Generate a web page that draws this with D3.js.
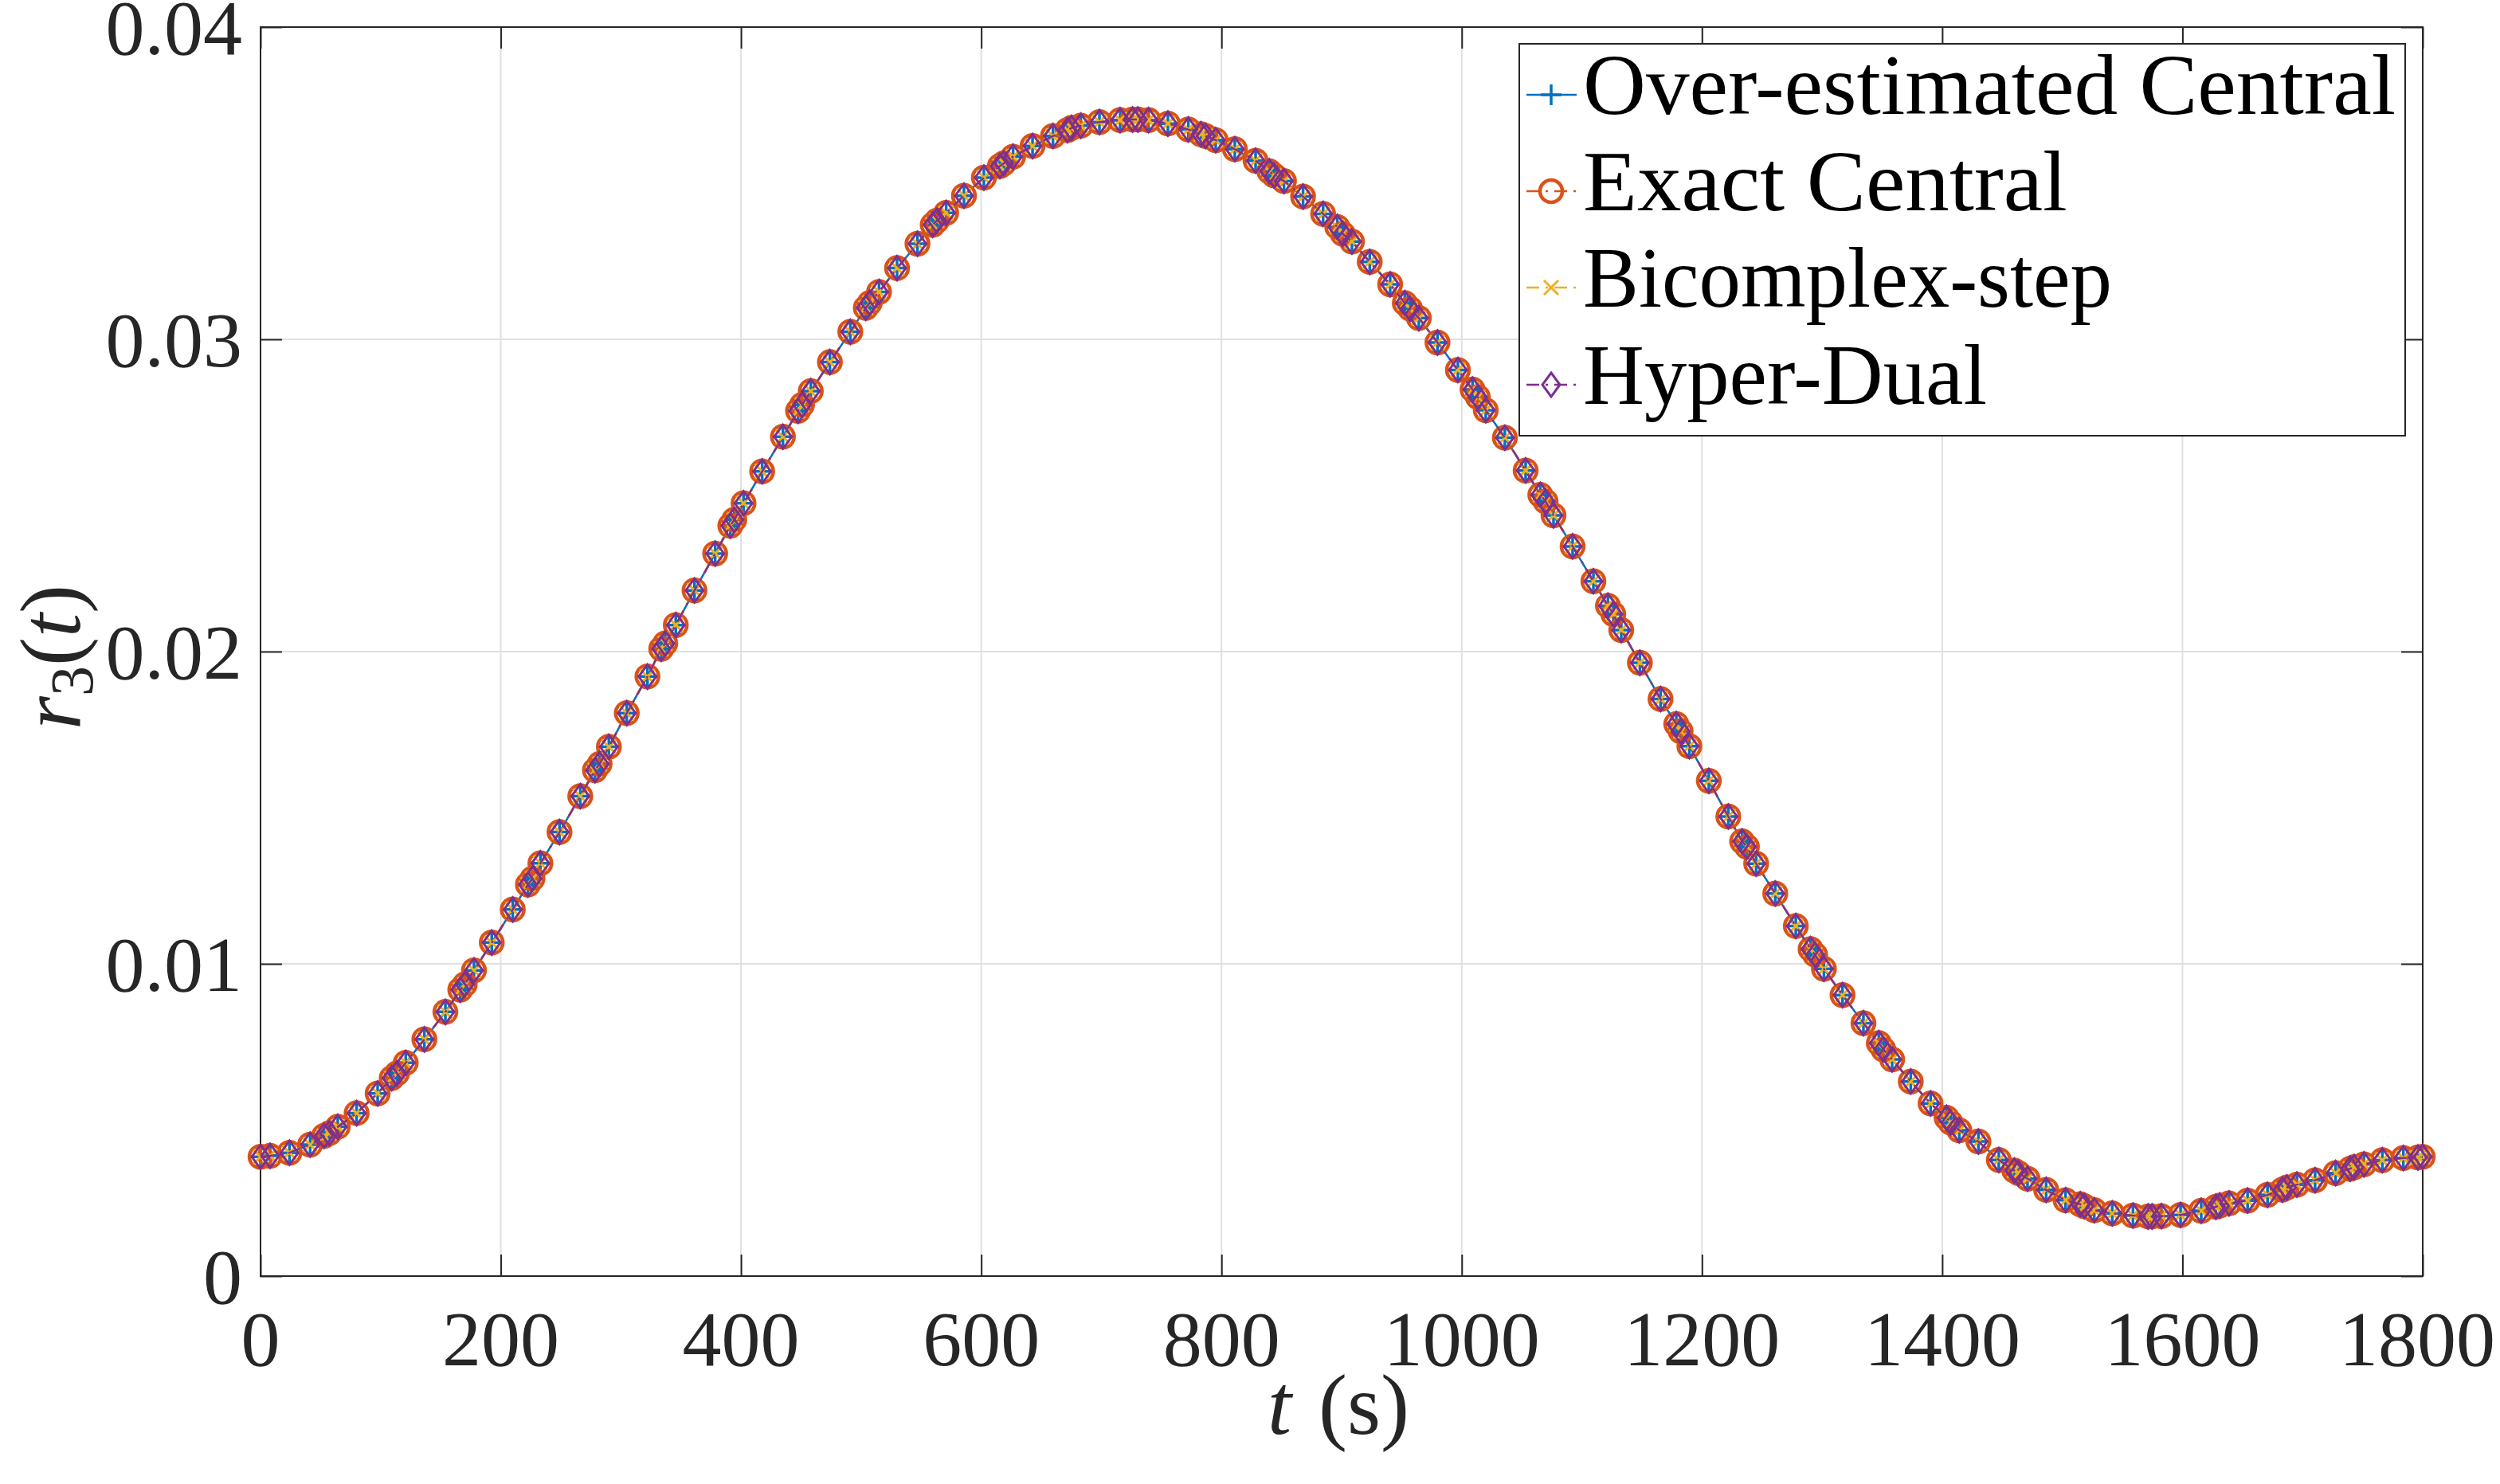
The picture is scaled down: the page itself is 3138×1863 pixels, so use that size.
<!DOCTYPE html>
<html>
<head>
<meta charset="utf-8">
<script src="https://cdn.jsdelivr.net/npm/d3@7/dist/d3.min.js"></script>
<style>
  html, body { margin: 0; padding: 0; background: #ffffff; }
  svg { display: block; }
</style>
</head>
<body>
<svg id="chart" width="3138" height="1863"></svg>
<script>
// ---------- DATA ----------
const timeValues = [0, 8, 24.1, 41.3, 52.9, 57.3, 64.3, 80.0, 97.5, 109.2, 113.6, 120.9, 136.4, 153.9, 166.3, 170.0, 177.7, 192.5, 210.0, 222.6, 226.4, 233.0, 248.9, 266.2, 278.4, 282.3, 290.0, 304.9, 322.1, 333.6, 336.9, 345.7, 361.3, 378.5, 391.1, 394.4, 402.1, 417.6, 434.9, 447.5, 450.8, 458.1, 474.0, 491.0, 503.9, 507.2, 514.9, 529.9, 546.9, 559.6, 563.1, 570.8, 585.6, 602.2, 615.5, 618.8, 626.5, 642.7, 659.7, 671.8, 675.2, 682.9, 698.4, 715.6, 726.0, 730.4, 739.3, 755.4, 772.4, 782.8, 786.8, 795.2, 811.1, 828.4, 839.8, 843.8, 852.0, 867.9, 884.6, 896.4, 900.9, 908.6, 923.4, 940.4, 952.6, 957.0, 964.3, 979.8, 996.8, 1009.0, 1013.4, 1020.0, 1035.9, 1053.2, 1065.4, 1069.8, 1076.4, 1092.3, 1109.6, 1121.7, 1126.2, 1132.8, 1148.3, 1165.5, 1178.6, 1182.2, 1189.5, 1205.7, 1221.9, 1233.4, 1237.4, 1245.1, 1261.0, 1278.1, 1290.4, 1294.2, 1301.5, 1317.0, 1334.4, 1347.2, 1351.0, 1358.3, 1373.8, 1390.3, 1403.6, 1406.9, 1414.2, 1430.1, 1447.1, 1460.0, 1463.5, 1471.0, 1486.5, 1502.7, 1514.9, 1518.3, 1526.6, 1541.5, 1558.8, 1571.4, 1574.7, 1582.4, 1598.4, 1615.6, 1627.8, 1631.1, 1638.8, 1654.2, 1670.8, 1683.2, 1686.9, 1695.3, 1710.4, 1727.5, 1739.6, 1743.0, 1751.1, 1766.4, 1783.9, 1796.0, 1800];

const r3Values = [0.00382, 0.00385, 0.00395, 0.00421, 0.00449, 0.00458, 0.00478, 0.00522, 0.00585, 0.00634, 0.00649, 0.00683, 0.00758, 0.00846, 0.00917, 0.00934, 0.00979, 0.01068, 0.01174, 0.01254, 0.01273, 0.01322, 0.01422, 0.01537, 0.0162, 0.0164, 0.01695, 0.01803, 0.0192, 0.02009, 0.02026, 0.02085, 0.02196, 0.02314, 0.02403, 0.02422, 0.02475, 0.02577, 0.02688, 0.02771, 0.0279, 0.02834, 0.02927, 0.03024, 0.03101, 0.03117, 0.03152, 0.03228, 0.03306, 0.03367, 0.0338, 0.03405, 0.0346, 0.03518, 0.03555, 0.03564, 0.03585, 0.03619, 0.03651, 0.0367, 0.03677, 0.03684, 0.03696, 0.03702, 0.03704, 0.03704, 0.03702, 0.03691, 0.03672, 0.03657, 0.03651, 0.03638, 0.03609, 0.03572, 0.03538, 0.03525, 0.03507, 0.03457, 0.03402, 0.0336, 0.03338, 0.03313, 0.03248, 0.03176, 0.03116, 0.03098, 0.03068, 0.0299, 0.02902, 0.02839, 0.02815, 0.02773, 0.02685, 0.0258, 0.02502, 0.02481, 0.02436, 0.02337, 0.02225, 0.02147, 0.0212, 0.02069, 0.01964, 0.01848, 0.01768, 0.01745, 0.01697, 0.01586, 0.01472, 0.01392, 0.01375, 0.01321, 0.01225, 0.01121, 0.01047, 0.01029, 0.00984, 0.009, 0.0081, 0.00746, 0.00726, 0.00694, 0.00623, 0.00553, 0.00507, 0.00492, 0.00467, 0.00431, 0.00372, 0.00338, 0.0033, 0.00312, 0.00276, 0.00243, 0.0023, 0.00224, 0.00211, 0.00201, 0.00194, 0.00191, 0.00191, 0.00192, 0.00196, 0.00209, 0.00222, 0.00226, 0.00233, 0.00242, 0.0026, 0.00277, 0.00284, 0.00293, 0.00307, 0.0033, 0.00344, 0.00349, 0.00358, 0.00371, 0.00378, 0.0038, 0.00382];

// The four methods give the same curve (overlapping markers)
const seriesNames = ["Over-estimated Central", "Exact Central", "Bicomplex-step", "Hyper-Dual"];
const seriesValues = [r3Values, r3Values, r3Values, r3Values];

const xTickValues = [0, 200, 400, 600, 800, 1000, 1200, 1400, 1600, 1800];
const yTickValues = [0, 0.01, 0.02, 0.03, 0.04];
const yTickLabels = ["0", "0.01", "0.02", "0.03", "0.04"];

// ---------- STYLE ----------
const colors = ["#0072BD", "#D95319", "#EDB120", "#7E2F8E"];
const markerTypes = ["plus", "circle", "x", "diamond"];
const lineDash = [null, "16,8,3,8", "16,8,3,8", "16,8,3,8"];
const markerStroke = [3.5, 4.5, 3, 3];
const axisColor = "#262626";
const gridColor = "#e0e0e0";
const tickFont = "'Liberation Serif', 'Times New Roman', serif";

const L = 327, R = 3041, T = 34, B = 1602;

const svg = d3.select("#chart");
svg.append("rect").attr("width", 3138).attr("height", 1863).attr("fill", "#ffffff");

const x = d3.scaleLinear().domain([0, 1800]).range([L, R]);
const y = d3.scaleLinear().domain([0, 0.04]).range([B, T]);

// grid
const grid = svg.append("g");
grid.selectAll("line.gx").data(xTickValues).enter().append("line")
  .attr("x1", d => x(d)).attr("x2", d => x(d)).attr("y1", T).attr("y2", B)
  .attr("stroke", gridColor).attr("stroke-width", 2);
grid.selectAll("line.gy").data(yTickValues).enter().append("line")
  .attr("x1", L).attr("x2", R).attr("y1", d => y(d)).attr("y2", d => y(d))
  .attr("stroke", gridColor).attr("stroke-width", 2);

// axes (ticks inward, on all four sides)
const tickLen = 27;
const axB = svg.append("g").attr("transform", `translate(0,${B})`)
  .call(d3.axisTop(x).tickValues(xTickValues).tickSize(tickLen).tickFormat(""));
const axT = svg.append("g").attr("transform", `translate(0,${T})`)
  .call(d3.axisBottom(x).tickValues(xTickValues).tickSize(tickLen).tickFormat(""));
const axL = svg.append("g").attr("transform", `translate(${L},0)`)
  .call(d3.axisRight(y).tickValues(yTickValues).tickSize(tickLen).tickFormat(""));
const axR = svg.append("g").attr("transform", `translate(${R},0)`)
  .call(d3.axisLeft(y).tickValues(yTickValues).tickSize(tickLen).tickFormat(""));
[axB, axT, axL, axR].forEach(a => {
  a.select(".domain").remove();
  a.selectAll(".tick line").attr("stroke", axisColor).attr("stroke-width", 2);
});
svg.append("rect").attr("x", L).attr("y", T).attr("width", R - L).attr("height", B - T)
  .attr("fill", "none").attr("stroke", axisColor).attr("stroke-width", 2);

// tick labels
const xLabels = svg.append("g").selectAll("text").data(xTickValues).enter().append("text")
  .attr("x", d => x(d)).attr("y", 1714)
  .attr("text-anchor", "middle")
  .attr("font-family", tickFont).attr("font-size", 98).attr("fill", axisColor)
  .text(d => d);
// keep the last label inside the picture (as the reference does)
xLabels.each(function(d) {
  const w = this.getComputedTextLength();
  const cx = x(d);
  if (cx + w / 2 > 3132) d3.select(this).attr("x", 3132 - w / 2);
});
svg.append("g").selectAll("text").data(yTickValues).enter().append("text")
  .attr("x", 304).attr("y", d => y(d) + 34)
  .attr("text-anchor", "end")
  .attr("font-family", tickFont).attr("font-size", 98).attr("fill", axisColor)
  .text((d, i) => yTickLabels[i]);

// axis titles
const xt = svg.append("text").attr("x", 1680).attr("y", 1800).attr("text-anchor", "middle")
  .attr("font-family", tickFont).attr("font-size", 108).attr("fill", axisColor);
xt.append("tspan").attr("font-style", "italic").text("t");
xt.append("tspan").attr("dx", 34).text("(s)");

const yt = svg.append("text").attr("transform", "translate(100,825) rotate(-90)")
  .attr("text-anchor", "middle")
  .attr("font-family", tickFont).attr("font-size", 108).attr("fill", axisColor);
yt.append("tspan").attr("font-style", "italic").text("r");
yt.append("tspan").attr("font-size", 76).attr("dy", 16).text("3");
yt.append("tspan").attr("dy", -16).text("(");
yt.append("tspan").attr("font-style", "italic").text("t");
yt.append("tspan").text(")");

// marker paths
function markerPath(type) {
  if (type === "plus") return "M-13,0H13M0,-13V13";
  if (type === "circle") return "M14,0A14,14 0 1,1 -14,0A14,14 0 1,1 14,0Z";
  if (type === "x") return "M-9,-9L9,9M-9,9L9,-9";
  return "M0,-15L11,0L0,15L-11,0Z";
}

const lineGen = d3.line().x(d => x(d[0])).y(d => y(d[1]));

seriesValues.forEach((vals, i) => {
  const pts = timeValues.map((t, k) => [t, vals[k]]);
  const g = svg.append("g");
  g.append("path").datum(pts).attr("d", lineGen)
    .attr("fill", "none").attr("stroke", colors[i]).attr("stroke-width", 2.5)
    .attr("stroke-dasharray", lineDash[i]);
  g.selectAll("path.m").data(pts).enter().append("path")
    .attr("class", "m")
    .attr("transform", d => `translate(${x(d[0])},${y(d[1])})`)
    .attr("d", markerPath(markerTypes[i]))
    .attr("fill", "none").attr("stroke", colors[i]).attr("stroke-width", markerStroke[i]);
});

// legend
const lg = svg.append("g");
lg.append("rect").attr("x", 1907).attr("y", 55).attr("width", 1112).attr("height", 492)
  .attr("fill", "#ffffff").attr("stroke", axisColor).attr("stroke-width", 2);
const rowY = [119, 240, 361, 483];
const textW = [1020, 608, 664, 507];
seriesNames.forEach((name, i) => {
  const cy = rowY[i];
  lg.append("line").attr("x1", 1916).attr("x2", 1979).attr("y1", cy).attr("y2", cy)
    .attr("stroke", colors[i]).attr("stroke-width", 2.5).attr("stroke-dasharray", lineDash[i]);
  lg.append("path").attr("transform", `translate(1947,${cy})`).attr("d", markerPath(markerTypes[i]))
    .attr("fill", "none").attr("stroke", colors[i]).attr("stroke-width", markerStroke[i]);
  lg.append("text").attr("x", 1987).attr("y", cy + 24)
    .attr("font-family", tickFont).attr("font-size", 109).attr("fill", "#000000")
    .attr("textLength", textW[i]).attr("lengthAdjust", "spacingAndGlyphs")
    .text(name);
});
</script>
</body>
</html>
